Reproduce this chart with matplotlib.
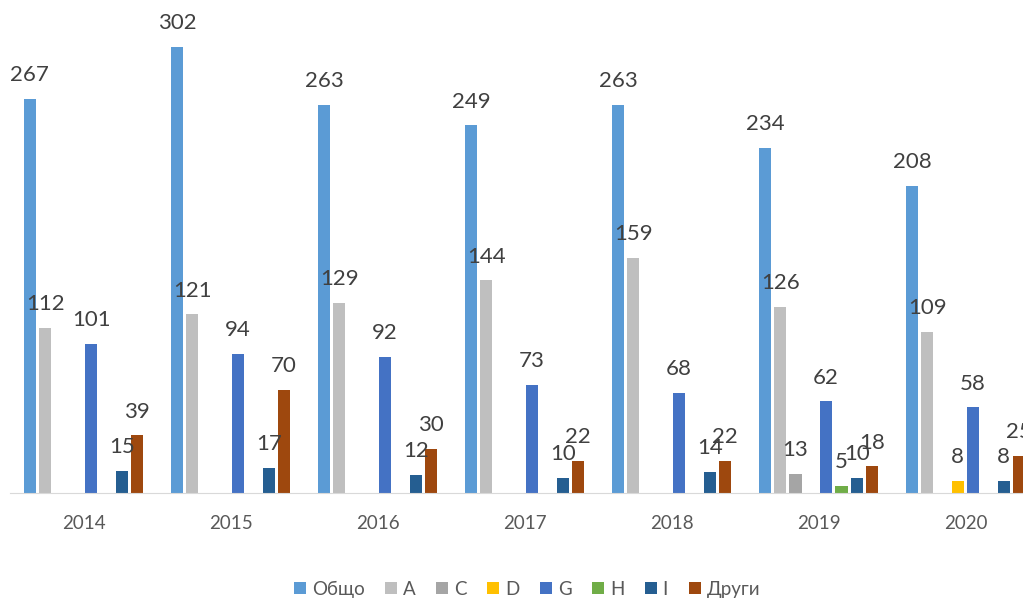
import numpy as np
import matplotlib.pyplot as plt

plt.rcParams['font.family'] = ['Lato', 'DejaVu Sans']

years = ['2014', '2015', '2016', '2017', '2018', '2019', '2020']
series = ['Общо', 'A', 'C', 'D', 'G', 'H', 'I', 'Други']
obshto = [267, 302, 263, 249, 263, 234, 208]
a_vals = [112, 121, 129, 144, 159, 126, 109]
c_vals = [0, 0, 0, 0, 0, 13, 0]
d_vals = [0, 0, 0, 0, 0, 0, 8]
g_vals = [101, 94, 92, 73, 68, 62, 58]
h_vals = [0, 0, 0, 0, 0, 5, 0]
i_vals = [15, 17, 12, 10, 14, 10, 8]
drugi = [39, 70, 30, 22, 22, 18, 25]
colors = ['#5B9BD5', '#BFBFBF', '#A5A5A5', '#FFC000',
          '#4472C4', '#70AD47', '#255E91', '#9E480E']

values = [obshto, a_vals, c_vals, d_vals, g_vals, h_vals, i_vals, drugi]

fig = plt.figure(figsize=(10.23, 6.0), dpi=100)
# axes run a bit past the right edge, like the cropped original
ax = fig.add_axes([10 / 1023, 107 / 600, 1029 / 1023, 493 / 600])

x = np.arange(len(years))
slot = 1 / 9.6
width = slot * 0.8
for k, (name, vals, col) in enumerate(zip(series, values, colors)):
    pos = x + (k - 3.5) * slot
    bars = ax.bar(pos, vals, width, color=col, label=name)
    for p, v in zip(pos, vals):
        if v > 0:
            ax.annotate(str(v), (p, v), xytext=(0, 10), textcoords='offset points',
                        ha='center', va='bottom', fontsize=16, color='#404040')

ax.set_xlim(-0.5, len(years) - 0.5)
ax.set_ylim(0, 334)
ax.set_xticks(x)
ax.set_xticklabels(years, fontsize=13.5, color='#595959')
ax.tick_params(axis='x', length=0, pad=16)
ax.set_yticks([])
for s in ['top', 'left', 'right']:
    ax.spines[s].set_visible(False)
ax.spines['bottom'].set_color('#D9D9D9')

handles, labels = ax.get_legend_handles_labels()
fig.legend(handles, labels, loc='center', bbox_to_anchor=(527 / 1023, 1 - 589 / 600),
           ncol=8, frameon=False, fontsize=13.5, handlelength=0.65, handleheight=0.65,
           handletextpad=0.3, columnspacing=1.1, labelcolor='#595959')

fig.savefig('out.png', dpi=100)
